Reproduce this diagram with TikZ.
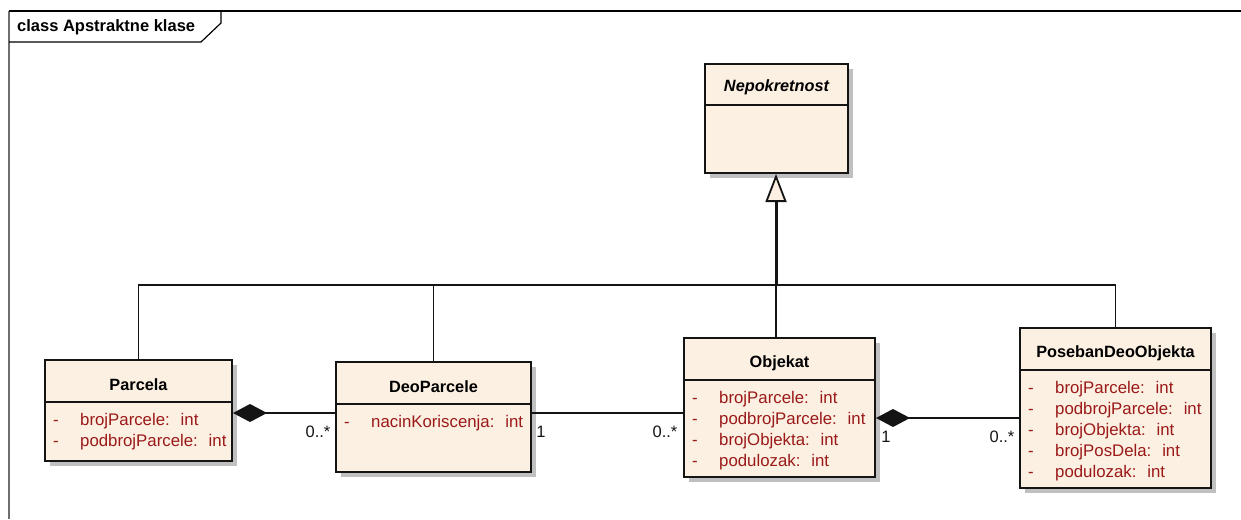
\documentclass[tikz,border=0pt]{standalone}
\usepackage{fontspec}
\setmainfont{Liberation Sans}
\usetikzlibrary{arrows.meta,shadows}

\definecolor{umlfill}{RGB}{251,240,225}
\definecolor{umlattr}{RGB}{155,25,25}
\definecolor{umlshadow}{RGB}{192,192,192}
\definecolor{umlline}{RGB}{20,20,20}
\definecolor{framegray}{RGB}{110,110,110}

% A UML class: name, x, y (top left), width, height, title, attribute list
\newcommand{\umlclass}[7]{%
  \node[classbox, minimum width=#4pt, minimum height=#5pt] (#1) at (#2,#3) {};
  \draw[divider] ([yshift=-43pt]#1.north west) -- ([yshift=-43pt]#1.north east);
  \node[classname] (#1-name) at ([yshift=-26pt]#1.north) {#6};
  \foreach \attr [count=\i] in {#7} {
    \pgfmathsetmacro{\dy}{-62.5-(\i-1)*21}
    \node[attrtext] (#1-dash-\i) at ([xshift=9pt,yshift=\dy pt]#1.north west) {-};
    \node[attrtext] (#1-attr-\i) at ([xshift=36pt,yshift=\dy pt]#1.north west) {\attr};
  }%
}

\begin{document}
\begin{tikzpicture}[x=1pt,y=-1pt,
  font=\fontsize{16}{19}\selectfont,
  classbox/.style={draw=umlline, line width=2pt, fill=umlfill, anchor=north west,
    inner sep=0pt,
    drop shadow={shadow xshift=5pt, shadow yshift=-5pt, fill=umlshadow, opacity=1}},
  divider/.style={draw=umlline, line width=1.5pt},
  classname/.style={font=\fontsize{16.3}{19}\selectfont\bfseries, text=black,
    inner sep=0pt, anchor=center},
  attrtext/.style={font=\fontsize{16.8}{19}\selectfont, text=umlattr, anchor=west,
    inner sep=0pt, text height=12pt, text depth=3.5pt},
  mult/.style={font=\fontsize{16.5}{19}\selectfont, text=umlline, inner sep=0pt,
    anchor=center},
  inherit/.style={draw=umlline, line width=1.5pt},
  gen/.style={draw=umlline, line width=3pt,
    arrows={-Triangle[open, length=28pt, width=21pt, line width=1.8pt, fill=umlfill]}},
  comp/.style={draw=umlline, line width=1.5pt,
    arrows={Diamond[length=34pt, width=18pt]-}},
  assoc/.style={draw=umlline, line width=1.5pt},
]
\useasboundingbox (0,0) rectangle (1241,519);

% diagram frame with its name tab
\draw[framegray, line width=1.5pt] (9,519) -- (9,11);
\draw[black, line width=1.5pt] (9,11) -- (1241,11);
\draw[black, line width=1.2pt] (9,42) -- (201,42) -- (221,23) -- (221,11);
\node[font=\fontsize{16.5}{19}\selectfont\bfseries, anchor=west, inner sep=0pt]
  (frametitle) at (17,27) {class Apstraktne klase};

% abstract base class
\node[classbox, minimum width=143pt, minimum height=109pt] (nep) at (704,63) {};
\draw[divider] ([yshift=-42pt]nep.north west) -- ([yshift=-42pt]nep.north east);
\node[classname, font=\fontsize{16.3}{19}\selectfont\bfseries\itshape]
  (nep-name) at ([yshift=-24pt]nep.north) {Nepokretnost};

% concrete classes
\umlclass{parcela}{44}{359}{187}{101}{Parcela}
  {brojParcele:~ int, podbrojParcele:~ int}
\umlclass{deoparcele}{335}{361}{195}{110}{DeoParcele}
  {nacinKoriscenja:~ int}
\umlclass{objekat}{683}{337}{191}{139}{Objekat}
  {brojParcele:~ int, podbrojParcele:~ int, brojObjekta:~ int, podulozak:~ int}
\umlclass{poseban}{1019}{327}{191}{160}{PosebanDeoObjekta}
  {brojParcele:~ int, podbrojParcele:~ int, brojObjekta:~ int, brojPosDela:~ int, podulozak:~ int}

% generalization tree
\coordinate (junc) at (776,285);
\draw[inherit] (parcela.north) |- (junc);
\draw[inherit] (deoparcele.north) |- (junc);
\draw[inherit] (poseban.north) |- (junc);
\draw[inherit] (objekat.north -| junc) -- (junc);
\draw[gen] (junc) -- (nep.south -| junc);

% compositions and association
\coordinate (pc) at ([yshift=-2.5pt]parcela.east);
\coordinate (da) at ([yshift=4pt]deoparcele.east);
\coordinate (oc) at ([yshift=-10.5pt]objekat.east);
\draw[comp] (pc) -- (deoparcele.west |- pc);
\draw[assoc] (da) -- (objekat.west |- da);
\draw[comp] (oc) -- (poseban.west |- oc);

% multiplicities
\node[mult] (m1) at (318,432) {0..*};
\node[mult] (m2) at (541,432) {1};
\node[mult] (m3) at (665,432) {0..*};
\node[mult] (m4) at (886,437) {1};
\node[mult] (m5) at (1002,437) {0..*};
\end{tikzpicture}
\end{document}
